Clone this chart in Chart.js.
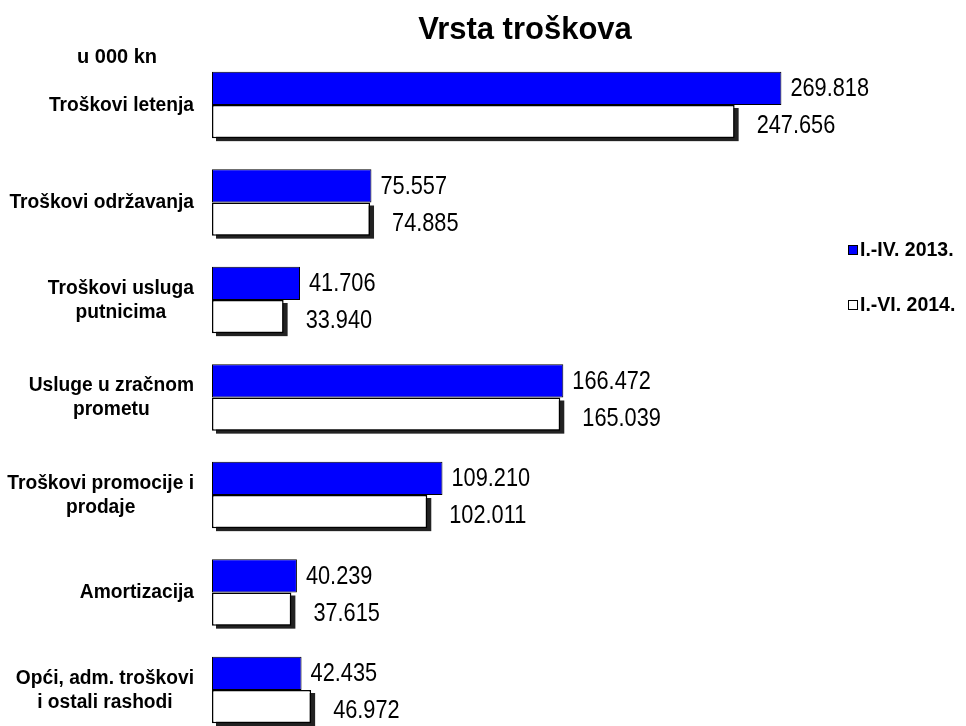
<!DOCTYPE html>
<html>
<head>
<meta charset="utf-8">
<script src="https://cdn.jsdelivr.net/npm/chart.js@4.4.0/dist/chart.umd.min.js"></script>
<style>
  html, body { margin: 0; padding: 0; background: #fff; }
  #wrap { width: 966px; height: 726px; position: relative; }
</style>
</head>
<body>
<div id="wrap"><canvas id="chart" width="966" height="726"></canvas></div>
<script>
// --- DATA ---
const categories = [
    ['Troškovi letenja'],
    ['Troškovi održavanja'],
    ['Troškovi usluga', 'putnicima'],
    ['Usluge u zračnom', 'prometu'],
    ['Troškovi promocije i', 'prodaje'],
    ['Amortizacija'],
    ['Opći, adm. troškovi', 'i ostali rashodi']
];
const seriesNames = ['I.-IV. 2013.', 'I.-VI. 2014.'];
const values2013 = [269.818, 75.557, 41.706, 166.472, 109.210, 40.239, 42.435];
const values2014 = [247.656, 74.885, 33.940, 165.039, 102.011, 37.615, 46.972];
const titleText = 'Vrsta troškova';
const unitText = 'u 000 kn';

const FONT = '"Liberation Sans", Arial, sans-serif';

// draws text squeezed horizontally (the original uses a narrow face)
function squeezeText(ctx, text, x, y, align, sx) {
    ctx.save();
    ctx.translate(x, y);
    ctx.scale(sx, 1);
    ctx.textAlign = align;
    ctx.fillText(text, 0, 0);
    ctx.restore();
}

// dark drop shadow behind the white bars
const shadowPlugin = {
    id: 'barShadow',
    beforeDatasetDraw(chart, args) {
        if (args.index !== 1) return;
        const ctx = chart.ctx;
        ctx.save();
        ctx.fillStyle = '#222';
        args.meta.data.forEach(bar => {
            const p = bar.getProps(['x', 'y', 'base', 'height'], true);
            ctx.fillRect(p.base + 4, p.y - p.height / 2 + 3, p.x - p.base, p.height);
        });
        ctx.restore();
    }
};

// value labels, category labels, title, unit and legend
const labelPlugin = {
    id: 'valueLabels',
    afterDatasetsDraw(chart) {
        const ctx = chart.ctx;
        ctx.save();
        ctx.fillStyle = '#000';
        ctx.font = '25px ' + FONT;
        ctx.textBaseline = 'middle';
        chart.data.datasets.forEach((ds, di) => {
            const meta = chart.getDatasetMeta(di);
            meta.data.forEach((bar, i) => {
                const dx = di === 0 ? 9 : 22;
                const dy = di === 0 ? 1 : 5;
                squeezeText(ctx, ds.data[i].toFixed(3), bar.x + dx, bar.y + dy, 'left', 0.87);
            });
        });
        ctx.restore();
    },
    afterDraw(chart) {
        const ctx = chart.ctx;
        const yScale = chart.scales.y;
        ctx.save();
        ctx.fillStyle = '#000';
        ctx.textBaseline = 'middle';

        // category labels: block right-aligned, lines centred inside it
        ctx.font = 'bold 20px ' + FONT;
        const sx = 0.96, right = 194, lineH = 24;
        categories.forEach((lines, i) => {
            const yc = yScale.getPixelForTick(i);
            const w = Math.max(...lines.map(l => ctx.measureText(l).width)) * sx;
            const cx = right - w / 2;
            lines.forEach((l, k) => {
                squeezeText(ctx, l, cx, yc + (k - (lines.length - 1) / 2) * lineH, 'center', sx);
            });
        });

        ctx.font = 'bold 31px ' + FONT;
        squeezeText(ctx, titleText, 525, 30, 'center', 1.0);
        ctx.font = 'bold 20px ' + FONT;
        squeezeText(ctx, unitText, 117, 57, 'center', 1.0);

        // legend
        const colors = ['#0000FF', '#FFFFFF'];
        const ys = [250, 305];
        ctx.font = 'bold 19.5px ' + FONT;
        seriesNames.forEach((name, i) => {
            ctx.fillStyle = colors[i];
            ctx.fillRect(848, ys[i] - 5, 10, 10);
            ctx.strokeStyle = '#000';
            ctx.lineWidth = 1;
            ctx.strokeRect(848.5, ys[i] - 4.5, 9, 9);
            ctx.fillStyle = '#000';
            squeezeText(ctx, name, 860, ys[i] + 1, 'left', 1.0);
        });
        ctx.restore();
    }
};

new Chart(document.getElementById('chart').getContext('2d'), {
    type: 'bar',
    data: {
        labels: categories,
        datasets: [
            { label: seriesNames[0], data: values2013, backgroundColor: '#0000FF', borderColor: '#000', borderWidth: 1, borderSkipped: false, clip: false },
            { label: seriesNames[1], data: values2014, backgroundColor: '#FFFFFF', borderColor: '#000', borderWidth: 1.5, borderSkipped: false, clip: false }
        ]
    },
    options: {
        indexAxis: 'y',
        responsive: false,
        animation: false,
        layout: { padding: { top: 105, bottom: 36, right: 142, left: 0 } },
        datasets: { bar: { categoryPercentage: 0.68, barPercentage: 1.0 } },
        plugins: { legend: { display: false }, title: { display: false }, tooltip: { enabled: false } },
        scales: {
            x: { display: false, min: 0, max: 290 },
            y: {
                offset: false,
                grid: { display: false },
                border: { display: false },
                afterFit(scale) { scale.width = 212; },
                ticks: { display: false }
            }
        }
    },
    plugins: [shadowPlugin, labelPlugin]
});
</script>
</body>
</html>
